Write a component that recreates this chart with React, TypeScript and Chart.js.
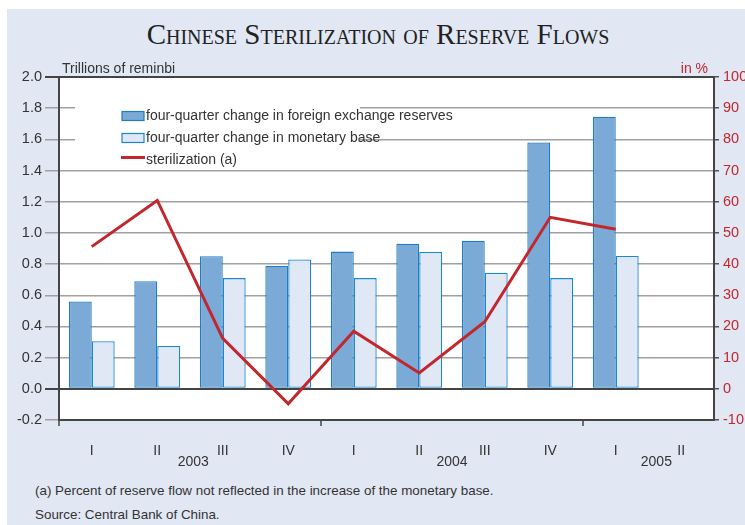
import React, { useEffect, useRef } from "react";
import { Chart, registerables } from "chart.js";

Chart.register(...registerables);

const categories = ["I", "II", "III", "IV", "I", "II", "III", "IV", "I", "II"];
const yearLabels = ["2003", "2004", "2005"];
const yearPositions = [1.55, 5.5, 8.62];
const yearBoundaries = [-0.5, 3.5, 7.5];
const fxReserves = [0.56, 0.69, 0.85, 0.79, 0.88, 0.93, 0.95, 1.58, 1.745, null];
const monetaryBase = [0.305, 0.275, 0.71, 0.83, 0.71, 0.878, 0.745, 0.71, 0.852, null];
const sterilization = [45.6, 60.4, 16.2, -4.8, 18.5, 5.1, 21.5, 55.0, 51.2, null];
const legendLabels = [
  "four-quarter change in foreign exchange reserves",
  "four-quarter change in monetary base",
  "sterilization (a)",
];

const FONT = "'Liberation Sans', Arial, sans-serif";
const DARK_FILL = "#7aaad5";
const DARK_BORDER = "#1f7cc4";
const LIGHT_FILL = "#e0e8f6";
const LIGHT_BORDER = "#1c86d0";
const RED = "#c1272d";
const TEXT = "#333333";
const PANEL = "#e1e8f4";

const overlayPlugin = {
  id: "overlay",
  beforeDraw(chart: any) {
    const ctx = chart.ctx;
    const a = chart.chartArea;
    ctx.save();
    ctx.fillStyle = "#ffffff";
    ctx.fillRect(a.left, a.top, a.right - a.left, a.bottom - a.top);
    ctx.restore();
  },
  beforeDatasetsDraw(chart: any) {
    const ctx = chart.ctx;
    ctx.save();
    ctx.fillStyle = "#ffffff";
    ctx.fillRect(75, 94, 285, 72);
    ctx.font = `14px ${FONT}`;
    ctx.textBaseline = "middle";
    ctx.textAlign = "left";
    ctx.fillStyle = DARK_FILL;
    ctx.fillRect(122, 111.5, 22, 9);
    ctx.strokeStyle = DARK_BORDER;
    ctx.lineWidth = 1.2;
    ctx.strokeRect(122, 111.5, 22, 9);
    ctx.fillStyle = LIGHT_FILL;
    ctx.fillRect(122, 133.5, 22, 9);
    ctx.strokeStyle = LIGHT_BORDER;
    ctx.strokeRect(122, 133.5, 22, 9);
    ctx.strokeStyle = RED;
    ctx.lineWidth = 3;
    ctx.beginPath();
    ctx.moveTo(121, 157.5);
    ctx.lineTo(145, 157.5);
    ctx.stroke();
    ctx.fillStyle = TEXT;
    ctx.fillText(legendLabels[0], 146, 116.5);
    ctx.fillText(legendLabels[1], 146, 138.5);
    ctx.fillText(legendLabels[2], 146, 160);
    ctx.restore();
  },
  afterDraw(chart: any) {
    const ctx = chart.ctx;
    const x = chart.scales.x;
    const area = chart.chartArea;
    ctx.save();
    ctx.strokeStyle = "#444";
    ctx.lineWidth = 1.5;
    yearBoundaries.forEach((b) => {
      const px = x.getPixelForValue(b);
      ctx.beginPath();
      ctx.moveTo(px, area.bottom);
      ctx.lineTo(px, area.bottom + 6);
      ctx.stroke();
    });
    ctx.font = `14px ${FONT}`;
    ctx.fillStyle = TEXT;
    ctx.textAlign = "center";
    ctx.textBaseline = "middle";
    yearLabels.forEach((y, i) => {
      ctx.fillText(y, x.getPixelForValue(yearPositions[i]), 462);
    });
    ctx.textAlign = "left";
    ctx.fillText("Trillions of reminbi", 62, 69);
    ctx.fillStyle = RED;
    ctx.textAlign = "right";
    ctx.fillText("in %", 708, 69);
    ctx.restore();
  },
};

export default function App() {
  const ref = useRef<HTMLCanvasElement | null>(null);

  useEffect(() => {
    if (!ref.current) return;
    const chart = new Chart(ref.current, {
      type: "bar",
      data: {
        labels: categories,
        datasets: [
          {
            type: "line",
            label: legendLabels[2],
            data: sterilization,
            yAxisID: "y1",
            borderColor: RED,
            borderWidth: 3,
            pointRadius: 0,
            fill: false,
            tension: 0,
            order: 0,
          } as any,
          {
            label: legendLabels[0],
            data: fxReserves,
            yAxisID: "y",
            backgroundColor: DARK_FILL,
            borderColor: DARK_BORDER,
            borderWidth: 1.3,
            borderSkipped: false,
            categoryPercentage: 0.7,
            barPercentage: 1.0,
            order: 1,
          },
          {
            label: legendLabels[1],
            data: monetaryBase,
            yAxisID: "y",
            backgroundColor: LIGHT_FILL,
            borderColor: LIGHT_BORDER,
            borderWidth: 1.3,
            borderSkipped: false,
            categoryPercentage: 0.7,
            barPercentage: 1.0,
            order: 1,
          },
        ],
      },
      options: {
        animation: false,
        responsive: false,
        maintainAspectRatio: false,
        layout: { padding: { top: 77, left: 0, right: 0, bottom: 0 } },
        plugins: {
          legend: { display: false },
          title: { display: false },
          tooltip: { enabled: false },
        },
        scales: {
          x: {
            grid: { display: false },
            border: { display: true, color: "#444", width: 2 },
            ticks: {
              color: TEXT,
              font: { family: FONT, size: 14 },
              padding: 15,
              maxRotation: 0,
              autoSkip: false,
            },
            afterFit(scale: any) {
              scale.height = 50;
            },
          },
          y: {
            position: "left",
            min: -0.2,
            max: 2.0,
            ticks: {
              stepSize: 0.2,
              color: TEXT,
              font: { family: FONT, size: 14.5 },
              padding: 3,
              callback: (v: any) => Number(v).toFixed(1),
            },
            grid: {
              color: (c: any) => {
                const v = c.tick ? c.tick.value : 0;
                if (Math.abs(v) < 1e-6 || Math.abs(v - 2) < 1e-6) return "#444";
                return "#a0a0a0";
              },
              lineWidth: (c: any) => {
                const v = c.tick ? c.tick.value : 0;
                if (Math.abs(v) < 1e-6 || Math.abs(v - 2) < 1e-6) return 2;
                return 1.5;
              },
              tickLength: 14,
            },
            border: { display: true, color: "#444", width: 2 },
            afterFit(scale: any) {
              scale.width = 59;
            },
          },
          y1: {
            position: "right",
            min: -10,
            max: 100,
            ticks: {
              stepSize: 10,
              color: RED,
              font: { family: FONT, size: 14.5 },
              padding: 4,
            },
            grid: {
              drawOnChartArea: false,
              color: "#555",
              lineWidth: 1.5,
              tickLength: 5,
            },
            border: { display: true, color: "#444", width: 2 },
            afterFit(scale: any) {
              scale.width = 31;
            },
          },
        },
      },
      plugins: [overlayPlugin],
    });
    return () => chart.destroy();
  }, []);

  return (
    <div style={{ position: "absolute", left: 0, top: 0, width: 745, height: 525, overflow: "hidden" }}>
      <div style={{ position: "absolute", left: 7, top: 9, width: 738, height: 516, background: PANEL }} />
      <div
        style={{
          position: "absolute",
          left: 7,
          top: 18,
          width: 742,
          textAlign: "center",
          fontFamily: "'Liberation Serif', 'Times New Roman', serif",
          fontSize: 29,
          lineHeight: "32px",
          fontVariant: "small-caps",
          color: "#222",
          whiteSpace: "nowrap",
        }}
      >
        Chinese Sterilization of Reserve Flows
      </div>
      <canvas ref={ref} width={745} height={470} style={{ position: "absolute", left: 0, top: 0, width: 745, height: 470 }} />
      <div
        style={{
          position: "absolute",
          left: 35,
          top: 483,
          fontFamily: FONT,
          fontSize: 13.4,
          lineHeight: "16px",
          color: TEXT,
          whiteSpace: "nowrap",
        }}
      >
        (a) Percent of reserve flow not reflected in the increase of the monetary base.
      </div>
      <div
        style={{
          position: "absolute",
          left: 35,
          top: 507,
          fontFamily: FONT,
          fontSize: 13.4,
          lineHeight: "16px",
          color: TEXT,
          whiteSpace: "nowrap",
        }}
      >
        Source: Central Bank of China.
      </div>
    </div>
  );
}
